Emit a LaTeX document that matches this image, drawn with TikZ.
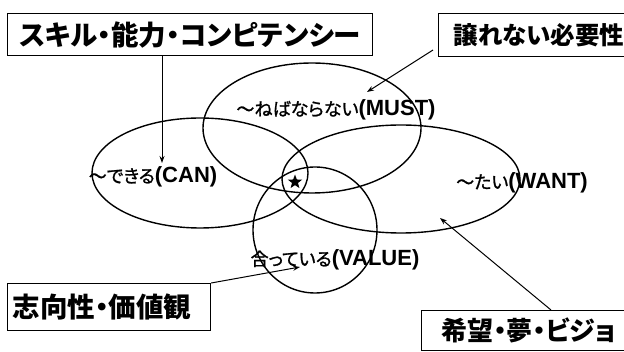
\documentclass[tikz,border=0pt]{standalone}
\usepackage{fontspec}
\newfontfamily\jp[RawFeature=+palt]{Noto Sans CJK JP}
\newfontfamily\jpm[RawFeature=+palt, FakeBold=1.2]{Noto Sans CJK JP}
\newfontfamily\lat{Liberation Sans}
\usetikzlibrary{shapes.geometric,arrows.meta}
\newcommand{\jps}{\jpm\fontsize{18}{20}\selectfont}
\newcommand{\lats}{\lat\bfseries\fontsize{22}{26}\selectfont}
\begin{document}
\begin{tikzpicture}[x=1pt,y=-1pt,
  lbl/.style={draw=black, line width=1.2pt, inner ysep=0pt, anchor=north west,
    font=\jp\bfseries\fontsize{27.5}{30}\selectfont},
  ell/.style={line width=1.4pt},
  arr/.style={line width=1pt, -{Stealth[length=7pt,width=5pt]}},
  txt/.style={inner sep=0pt}]
\useasboundingbox (0,0) rectangle (624,352);
\clip (0,0) rectangle (624,352);
\fill[white] (0,0) rectangle (624,352);

% ellipses
\draw[ell] (312,128) ellipse [x radius=109pt, y radius=65pt];
\draw[ell] (200,173) ellipse [x radius=108pt, y radius=55pt];
\draw[ell] (401,179) ellipse [x radius=119pt, y radius=54pt];
\draw[ell] (315,230) ellipse [x radius=62pt, y radius=63pt];

% boxes
\node[lbl, inner xsep=0pt, minimum width=365pt, minimum height=42pt] (skill) at (7,13) {スキル・能力・コンピテンシー};
\node[lbl, inner xsep=15pt, text width=220pt, align=left, minimum height=43pt,
  font=\jp\bfseries\fontsize{24.5}{28}\selectfont] (need) at (438,13) {譲れない必要性};
\node[lbl, inner xsep=5pt, text width=193pt, align=left, minimum height=47pt] (orient) at (7,283) {志向性・価値観};
\node[lbl, inner xsep=20pt, text width=220pt, align=left, minimum height=40pt,
  font=\jp\bfseries\fontsize{26}{28}\selectfont] (hope) at (421,310) {希望・夢・ビジョ};

% labels
\node[txt] (must) at (336,110) {{\jps ～ねばならない}{\lats (MUST)}};
\node[txt] (can) at (153,177) {{\jps ～できる}{\lats (CAN)}};
\node[txt] (want) at (522,183) {{\jps ～たい}{\lats (WANT)}};
\node[txt] (value) at (335,260) {{\jps 合っている}{\lats (VALUE)}};

% star
\node[star, star points=5, star point ratio=2.4, fill=black, inner sep=0pt, minimum size=15pt] (star) at (295,182) {};

% arrows
\coordinate (a1) at (162,163);
\draw[arr] (skill.south -| a1) -- (a1);
\coordinate (a2s) at (433,50);
\coordinate (a2e) at (367,92);
\draw[arr] (a2s) -- (a2e);
\coordinate (a3e) at (300,267);
\draw[arr] (orient.north east) -- (a3e);
\coordinate (a4s) at (551,310);
\coordinate (a4e) at (440,218);
\draw[arr] (hope.north -| a4s) -- (a4e);
\end{tikzpicture}
\end{document}
